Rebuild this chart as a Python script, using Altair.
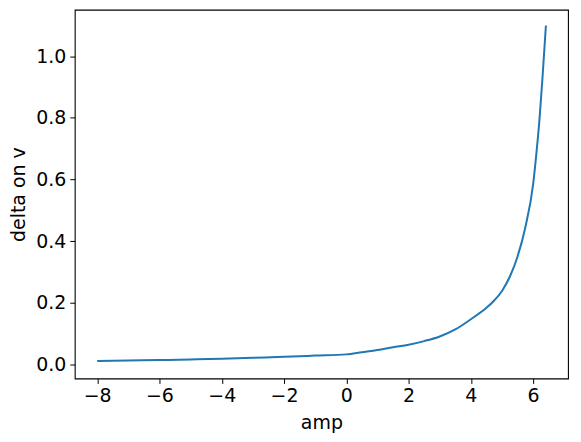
import altair as alt
import pandas as pd

amp = [-8.0, -7.0, -6.0, -5.0, -4.0, -3.0, -2.0, -1.0, 0.0, 0.5, 1.0, 1.5, 2.0, 2.5,
       3.0, 3.5, 4.0, 4.5, 4.75, 5.0, 5.25, 5.5, 5.75, 6.0, 6.1, 6.2, 6.3, 6.41]
delta = [0.0105, 0.012, 0.0135, 0.0155, 0.018, 0.021, 0.024, 0.028, 0.032, 0.039,
         0.046, 0.055, 0.063, 0.075, 0.09, 0.113, 0.146, 0.183, 0.207, 0.238, 0.284,
         0.35, 0.445, 0.585, 0.68, 0.79, 0.93, 1.10]

x_ticks = [-8, -6, -4, -2, 0, 2, 4, 6]
y_ticks = [0.0, 0.2, 0.4, 0.6, 0.8, 1.0]

df = pd.DataFrame({"amp": amp, "delta": delta})

FONT = "DejaVu Sans"

chart = alt.Chart(df).mark_line(color="#1f77b4", strokeWidth=2, clip=True,
                                interpolate="monotone").encode(
    x=alt.X("amp:Q", title="amp",
            scale=alt.Scale(domain=[-8.72, 7.12], nice=False, zero=False),
            axis=alt.Axis(values=x_ticks, format="d",
                          labelExpr="replace(datum.label, '-', '−')",
                          grid=False, tickSize=5, tickWidth=1, tickColor="black",
                          domain=False, labelFont=FONT, labelFontSize=19,
                          labelColor="black", labelPadding=3,
                          titleFont=FONT, titleFontSize=19, titleFontWeight="normal",
                          titleColor="black", titlePadding=8)),
    y=alt.Y("delta:Q", title="delta on v",
            scale=alt.Scale(domain=[-0.0462, 1.151], nice=False, zero=False),
            axis=alt.Axis(values=y_ticks, format=".1f",
                          grid=False, tickSize=5, tickWidth=1, tickColor="black",
                          domain=False, labelFont=FONT, labelFontSize=19,
                          labelColor="black", labelPadding=4,
                          titleFont=FONT, titleFontSize=19, titleFontWeight="normal",
                          titleColor="black", titlePadding=7)),
    order="amp:Q",
).properties(
    width=495, height=370,
    autosize=alt.AutoSizeParams(type="none"),
    padding={"left": 67, "top": 1, "right": 5, "bottom": 62},
    background="white",
).configure_view(stroke="black", strokeWidth=1.1)

chart.save("out.html", embed_options={"renderer": "svg", "actions": False})
